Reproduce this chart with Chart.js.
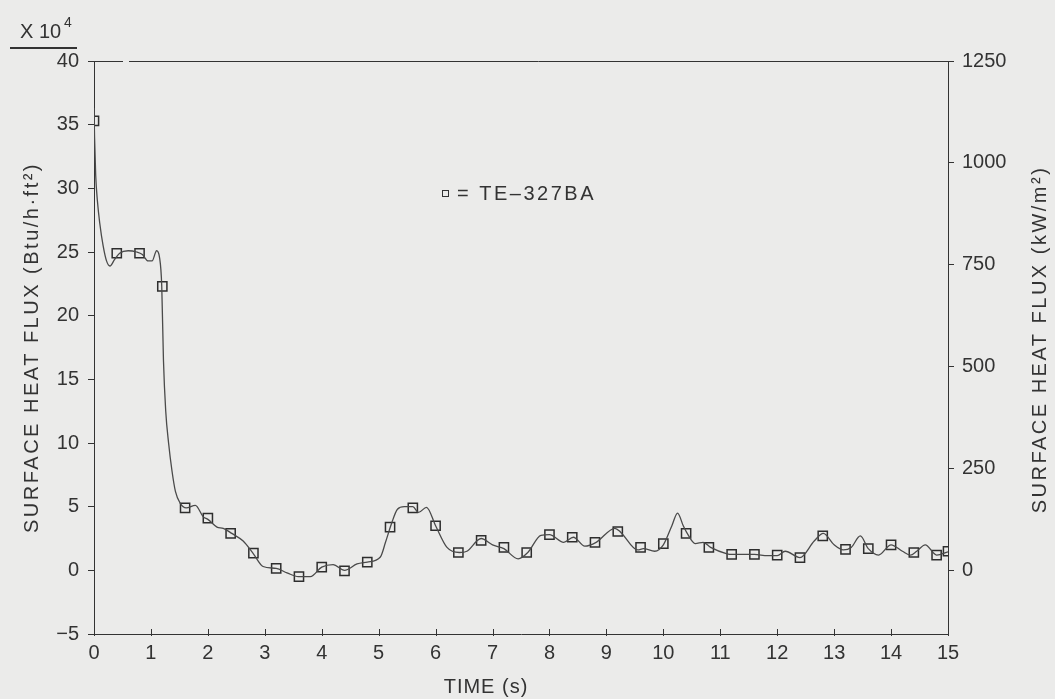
<!DOCTYPE html>
<html>
<head>
<meta charset="utf-8">
<script src="https://cdn.jsdelivr.net/npm/chart.js@4.4.1/dist/chart.umd.min.js"></script>
<style>
  html, body { margin: 0; padding: 0; background: #ebebea; }
  canvas { display: block; }
</style>
</head>
<body>
<canvas id="flux" width="1055" height="699"></canvas>
<script>
// Surface heat flux history, smoothed trace (x10^4 Btu/h.ft2)
const timeS = [
  0.00, 0.01, 0.03, 0.06, 0.10, 0.16, 0.22, 0.28, 0.36, 0.45, 0.60, 0.75, 0.85, 0.95,
  1.02, 1.10, 1.15, 1.19, 1.22, 1.26, 1.31, 1.37, 1.43, 1.51, 1.62, 1.78, 1.92, 2.00,
  2.16, 2.27, 2.42, 2.62, 2.80, 2.97, 3.20, 3.39, 3.59, 3.80, 4.00, 4.20, 4.40, 4.62,
  4.80, 5.03, 5.12, 5.22, 5.33, 5.45, 5.60, 5.70, 5.84, 6.00, 6.20, 6.42, 6.55, 6.80,
  7.00, 7.20, 7.45, 7.62, 7.85, 8.00, 8.25, 8.42, 8.62, 8.82, 9.15, 9.25, 9.55, 9.65,
  9.85, 10.00, 10.15, 10.25, 10.35, 10.42, 10.56, 10.70, 10.83, 11.12, 11.20, 11.60,
  11.83, 12.00, 12.14, 12.40, 12.65, 12.81, 13.00, 13.16, 13.30, 13.46, 13.60, 13.78,
  14.00, 14.20, 14.34, 14.45, 14.60, 14.80, 15.00
];
const fluxLine = [
  36.3, 34.0, 31.0, 29.0, 27.3, 25.5, 24.3, 23.9, 24.4, 24.9, 25.1, 25.0, 24.8, 24.3,
  24.3, 25.1, 24.6, 22.3, 16.5, 12.5, 10.0, 7.8, 6.2, 5.3, 4.9, 5.1, 4.2, 4.0,
  3.4, 3.3, 2.9, 2.3, 1.3, 0.3, 0.15, -0.2, -0.5, -0.5, 0.25, 0.45, 0.0, 0.5,
  0.65, 1.05, 2.2, 3.6, 4.8, 5.0, 5.0, 4.55, 4.95, 3.5, 1.8, 1.4, 1.5, 2.5,
  2.0, 1.7, 0.9, 1.4, 2.75, 2.8, 2.2, 2.6, 1.9, 2.2, 3.3, 3.0, 1.6, 1.7,
  1.5, 2.0, 3.5, 4.5, 3.5, 2.9, 2.1, 2.2, 1.8, 1.3, 1.25, 1.25,
  1.15, 1.15, 1.5, 1.0, 2.3, 2.9, 2.0, 1.6, 1.8, 2.7, 1.7, 1.2,
  2.0, 1.5, 1.2, 1.5, 2.0, 1.2, 1.45
];

// TE-327BA thermocouple samples
const markerTimes = [
  0.0, 0.4, 0.8, 1.2, 1.6, 2.0, 2.4, 2.8, 3.2, 3.6, 4.0, 4.4, 4.8, 5.2, 5.6, 6.0,
  6.4, 6.8, 7.2, 7.6, 8.0, 8.4, 8.8, 9.2, 9.6, 10.0, 10.4, 10.8, 11.2, 11.6, 12.0,
  12.4, 12.8, 13.2, 13.6, 14.0, 14.4, 14.8, 15.0
];
const markerFlux = [
  35.3, 24.9, 24.9, 22.3, 4.9, 4.1, 2.9, 1.35, 0.15, -0.5, 0.25, -0.05, 0.65, 3.4, 4.9, 3.5,
  1.4, 2.35, 1.8, 1.4, 2.8, 2.6, 2.2, 3.05, 1.8, 2.1, 2.9, 1.8, 1.25, 1.25, 1.2,
  1.0, 2.7, 1.65, 1.7, 2.0, 1.4, 1.2, 1.5
];

// right-hand scale in kW/m2
const rightTicks = [0, 250, 500, 750, 1000, 1250];

const INK = '#333333';
const FONT = "'Liberation Sans', Arial, sans-serif";

// frame top, inward x ticks, axis titles, multiplier and key
const annotations = {
  id: 'annotations',
  afterDraw(chart) {
    const { ctx, chartArea: a, scales } = chart;
    ctx.save();
    ctx.strokeStyle = INK;
    ctx.fillStyle = INK;
    ctx.lineWidth = 1;

    // top edge of the frame
    ctx.beginPath();
    ctx.moveTo(a.left, a.top + 0.5);
    ctx.lineTo(a.left + 29, a.top + 0.5);
    ctx.moveTo(a.left + 35, a.top + 0.5);
    ctx.lineTo(a.right, a.top + 0.5);
    ctx.stroke();

    // time ticks point into the plot
    ctx.beginPath();
    scales.x.ticks.forEach(t => {
      const px = Math.round(scales.x.getPixelForValue(t.value)) + 0.5;
      ctx.moveTo(px, a.bottom - 5);
      ctx.lineTo(px, a.bottom + 2);
    });
    ctx.stroke();

    // x 10^4 multiplier
    ctx.font = `20px ${FONT}`;
    ctx.textBaseline = 'alphabetic';
    ctx.textAlign = 'left';
    ctx.fillText('X 10', 20, 38);
    ctx.font = `14px ${FONT}`;
    ctx.fillText('4', 64, 27);
    ctx.lineWidth = 2;
    ctx.beginPath();
    ctx.moveTo(10, 48);
    ctx.lineTo(77, 48);
    ctx.stroke();
    ctx.lineWidth = 1;

    const midY = (a.top + a.bottom) / 2;
    ctx.textAlign = 'center';
    ctx.textBaseline = 'middle';
    ctx.font = `20px ${FONT}`;

    // left title
    ctx.save();
    ctx.letterSpacing = '2.5px';
    ctx.translate(32, midY);
    ctx.rotate(-Math.PI / 2);
    ctx.fillText('SURFACE HEAT FLUX (Btu/h\u00b7ft\u00b2)', 0, 0);
    ctx.restore();

    // right title
    ctx.save();
    ctx.letterSpacing = '2.5px';
    ctx.translate(1040, midY - 8);
    ctx.rotate(-Math.PI / 2);
    ctx.fillText('SURFACE HEAT FLUX (kW/m\u00b2)', 0, 0);
    ctx.restore();

    // time title
    ctx.save();
    ctx.letterSpacing = '1px';
    ctx.fillText('TIME (s)', 486, 687);
    ctx.restore();

    // key
    ctx.strokeRect(442.5, 190.5, 6, 6);
    ctx.save();
    ctx.letterSpacing = '2.5px';
    ctx.textAlign = 'left';
    ctx.font = `20px ${FONT}`;
    ctx.fillText('= TE\u2013327BA', 457, 194);
    ctx.restore();

    ctx.restore();
  }
};

const tickFont = { family: FONT, size: 20 };

new Chart(document.getElementById('flux'), {
  type: 'scatter',
  data: {
    datasets: [
      {
        label: 'trace',
        data: timeS.map((t, i) => ({ x: t, y: fluxLine[i] })),
        showLine: true,
        borderColor: '#4a4a4a',
        borderWidth: 1.3,
        pointRadius: 0,
        cubicInterpolationMode: 'monotone',
        yAxisID: 'y'
      },
      {
        label: 'TE-327BA',
        data: markerTimes.map((t, i) => ({ x: t, y: markerFlux[i] })),
        showLine: false,
        pointStyle: 'rect',
        pointRadius: 6.5,
        pointBackgroundColor: 'rgba(0,0,0,0)',
        pointBorderColor: '#2e2e2e',
        pointBorderWidth: 1.5,
        yAxisID: 'y'
      }
    ]
  },
  options: {
    responsive: false,
    animation: false,
    events: [],
    layout: { padding: { top: 61, left: 0, right: 0, bottom: 0 } },
    plugins: { legend: { display: false }, tooltip: { enabled: false } },
    scales: {
      x: {
        type: 'linear',
        min: 0,
        max: 15,
        ticks: { stepSize: 1, color: INK, font: tickFont, padding: 7, maxRotation: 0 },
        grid: { drawOnChartArea: false, drawTicks: false, color: INK },
        border: { color: INK, width: 1 },
        afterFit: s => { s.height = 65; }
      },
      y: {
        position: 'left',
        min: -5,
        max: 40,
        ticks: {
          stepSize: 5,
          color: INK,
          font: tickFont,
          padding: 9,
          callback: v => String(v).replace('-', '\u2212')
        },
        grid: { drawOnChartArea: false, tickLength: 6, color: INK },
        border: { color: INK, width: 1 },
        afterFit: s => { s.width = 94; }
      },
      y2: {
        position: 'right',
        min: -156.25,
        max: 1250,
        afterBuildTicks: s => { s.ticks = rightTicks.map(v => ({ value: v })); },
        ticks: { color: INK, font: tickFont, padding: 8, callback: v => String(v) },
        grid: { drawOnChartArea: false, tickLength: 6, color: INK },
        border: { color: INK, width: 1 },
        afterFit: s => { s.width = 107; }
      }
    }
  },
  plugins: [annotations]
});
</script>
</body>
</html>
